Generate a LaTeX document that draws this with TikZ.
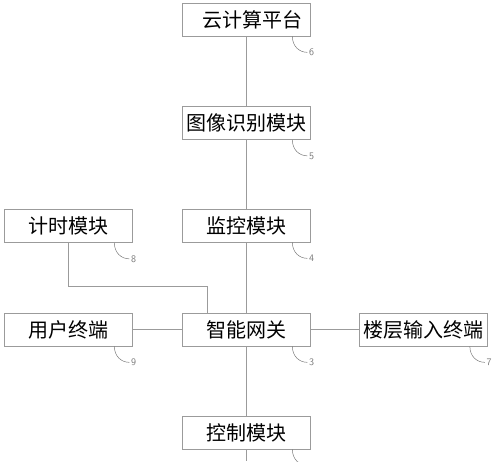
\documentclass[tikz,border=0pt]{standalone}
\usepackage{fontspec}
\newfontfamily\cjk{Noto Sans CJK SC}
\usetikzlibrary{positioning,calc}
\definecolor{linegray}{RGB}{155,155,155}
\definecolor{numgray}{RGB}{120,120,120}

\begin{document}
\begin{tikzpicture}[x=1pt,y=1pt,
            box/.style={draw=linegray,line width=0.7pt,minimum width=128pt,minimum height=33pt,inner sep=0pt,font=\cjk\fontsize{20}{20}\selectfont},
            wire/.style={draw=linegray,line width=0.7pt},
            callout/.style={draw=numgray,line width=0.5pt},
            num/.style={right,inner sep=1.5pt,text=numgray,font=\sffamily\fontsize{10}{10}\selectfont}]
            \useasboundingbox (0,0) rectangle (500,461);
            \clip (0,0) rectangle (500,461);
            \def\midx{246} % x of the main column

            \node[box] (cloud) at (\midx, 441.5) {\hspace{13pt}云计算平台};
            \node[box] (image) at (\midx, 338) {图像识别模块};
            \node[box] (monitor) at (\midx, 235.5) {监控模块};
            \node[box] (gateway) at (\midx, 131.5) {智能网关};
            \node[box] (control) at (\midx, 28.5) {控制模块};
            \node[box] (timer) at (68, 235) {计时模块};
            \node[box] (user) at (68, 131.5) {用户终端};
            \node[box] (floor) at (423.5, 131.5) {楼层输入终端};

            \coordinate (bottom) at (\midx, 0);
            \coordinate (bend) at (207, 175);

            \draw[wire] (cloud) -- (image);
            \draw[wire] (image) -- (monitor);
            \draw[wire] (monitor) -- (gateway);
            \draw[wire] (gateway) -- (control);
            \draw[wire] (control) -- (bottom);
            \draw[wire] (user) -- (gateway);
            \draw[wire] (gateway) -- (floor);
            \draw[wire] (timer.south) |- (bend) -- (bend |- gateway.north);

            % reference numerals
            \foreach \n/\t in {cloud/6, image/5, monitor/4, gateway/3, timer/8, user/9, floor/7}{
                \draw[callout] ([xshift=-18pt]\n.south east) .. controls +(0,-10) and +(-8,0) .. ([xshift=-3pt,yshift=-16pt]\n.south east) node[num] {\t};
            }
            \draw[callout] ([xshift=-18pt]control.south east) .. controls +(0,-10) and +(-8,0) .. ([xshift=-3pt,yshift=-16pt]control.south east);
        \end{tikzpicture}
\end{document}
